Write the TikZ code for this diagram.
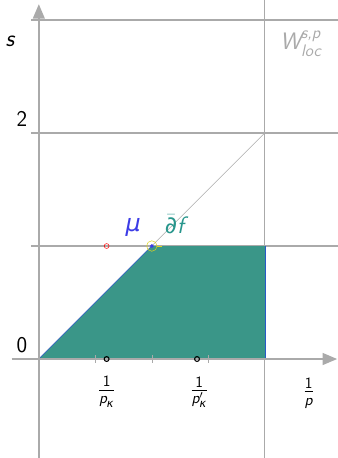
\documentclass[tikz,border=0pt]{standalone}
\usepackage{amsmath}
\usepackage{fontspec}
\newfontfamily\greekfont{DejaVu Sans}
\usetikzlibrary{arrows.meta}
\definecolor{axisgray}{RGB}{170,170,170}
\definecolor{regionteal}{RGB}{58,150,136}
\definecolor{edgeblue}{RGB}{40,90,200}
\definecolor{mublue}{RGB}{60,60,230}
\definecolor{delteal}{RGB}{40,150,140}
\newcommand{\vi}[1]{\text{\itshape #1}}
\newcommand{\gi}[1]{\text{\greekfont\itshape #1}}
\tikzset{
  biglabel/.style={inner sep=1pt,font=\sffamily\fontsize{18}{20}\selectfont},
  fraclabel/.style={inner sep=1pt,font=\sffamily\fontsize{17}{19}\selectfont}
}
\begin{document}
\begin{tikzpicture}[x=6cm,y=3cm,font=\sffamily\fontsize{17}{19}\selectfont]
  \useasboundingbox (-0.1718,-0.876) rectangle (1.3216,3.177);
  \coordinate (origin) at (0,0);
  \coordinate (corner) at (0.5,1);
  \coordinate (upper) at (1,1);
  \coordinate (lower) at (1,0);
  \coordinate (top) at (1,2);
  % grid
  \draw[axisgray,line width=0.9pt] (-0.035,1) -- (1.3216,1);
  \draw[axisgray,line width=0.9pt] (-0.035,2) -- (1.3216,2);
  \draw[axisgray,line width=0.9pt] (-0.035,3) -- (1.3216,3);
  \draw[axisgray,line width=0.9pt] (1,-0.876) -- (1,3.177);
  \draw[axisgray,thin] (origin) -- (top);
  % region
  \fill[regionteal] (origin) -- (corner) -- (upper) -- (lower) -- cycle;
  \draw[edgeblue,thin] (origin) -- (corner);
  \draw[edgeblue,thin] (upper) -- (lower);
  % axes
  \draw[axisgray,line width=1.2pt,-{Triangle[length=11pt,width=9pt]}] (-0.12,0) -- (1.32,0);
  \draw[axisgray,line width=1.2pt,-{Triangle[length=11pt,width=9pt]}] (0,-0.876) -- (0,3.14);
  \foreach \t in {0.25,0.5,0.75}
    \draw[axisgray,thin] (\t,-0.035) -- (\t,0.035);
  % points
  \node[draw,circle,thick,inner sep=1.3pt] (pk) at (0.3,0) {};
  \node[draw,circle,thick,inner sep=1.3pt] (pkd) at (0.7,0) {};
  \node[draw=red,circle,inner sep=1.3pt] (red) at (0.3,1) {};
  \node[draw=yellow!85!black,circle,inner sep=2.8pt] (yel) at (corner) {};
  \fill[mublue] (corner) circle (1.5pt);
  \draw[yellow!85!black] (0.522,1) -- (0.545,1);
  % labels
  \node[biglabel] (s) at (-0.128,2.81) {\itshape s};
  \node[inner sep=1pt] (two) at (-0.075,2.127) {2};
  \node[inner sep=1pt] (zero) at (-0.075,0.123) {0};
  \node[biglabel,axisgray] (space) at (1.159,2.79) {$\vi{W}^{\vi{s,p}}_{\vi{loc}}$};
  \node[fraclabel] (xlab) at (1.194,-0.30) {$\frac{\text{1}}{\vi{p}}$};
  \node[fraclabel] (pklab) at (0.3,-0.29) {$\frac{\text{1}}{\vi{p}_{\gi{κ}}}$};
  \node[fraclabel] (pkdlab) at (0.71,-0.29) {$\frac{\text{1}}{\vi{p}'_{\gi{κ}}}$};
  \node[biglabel,mublue] (mu) at (0.418,1.16) {\greekfont\itshape μ};
  \node[biglabel,delteal] (del) at (0.6,1.19) {$\bar{\gi{∂}}\vi{f}$};
\end{tikzpicture}
\end{document}
